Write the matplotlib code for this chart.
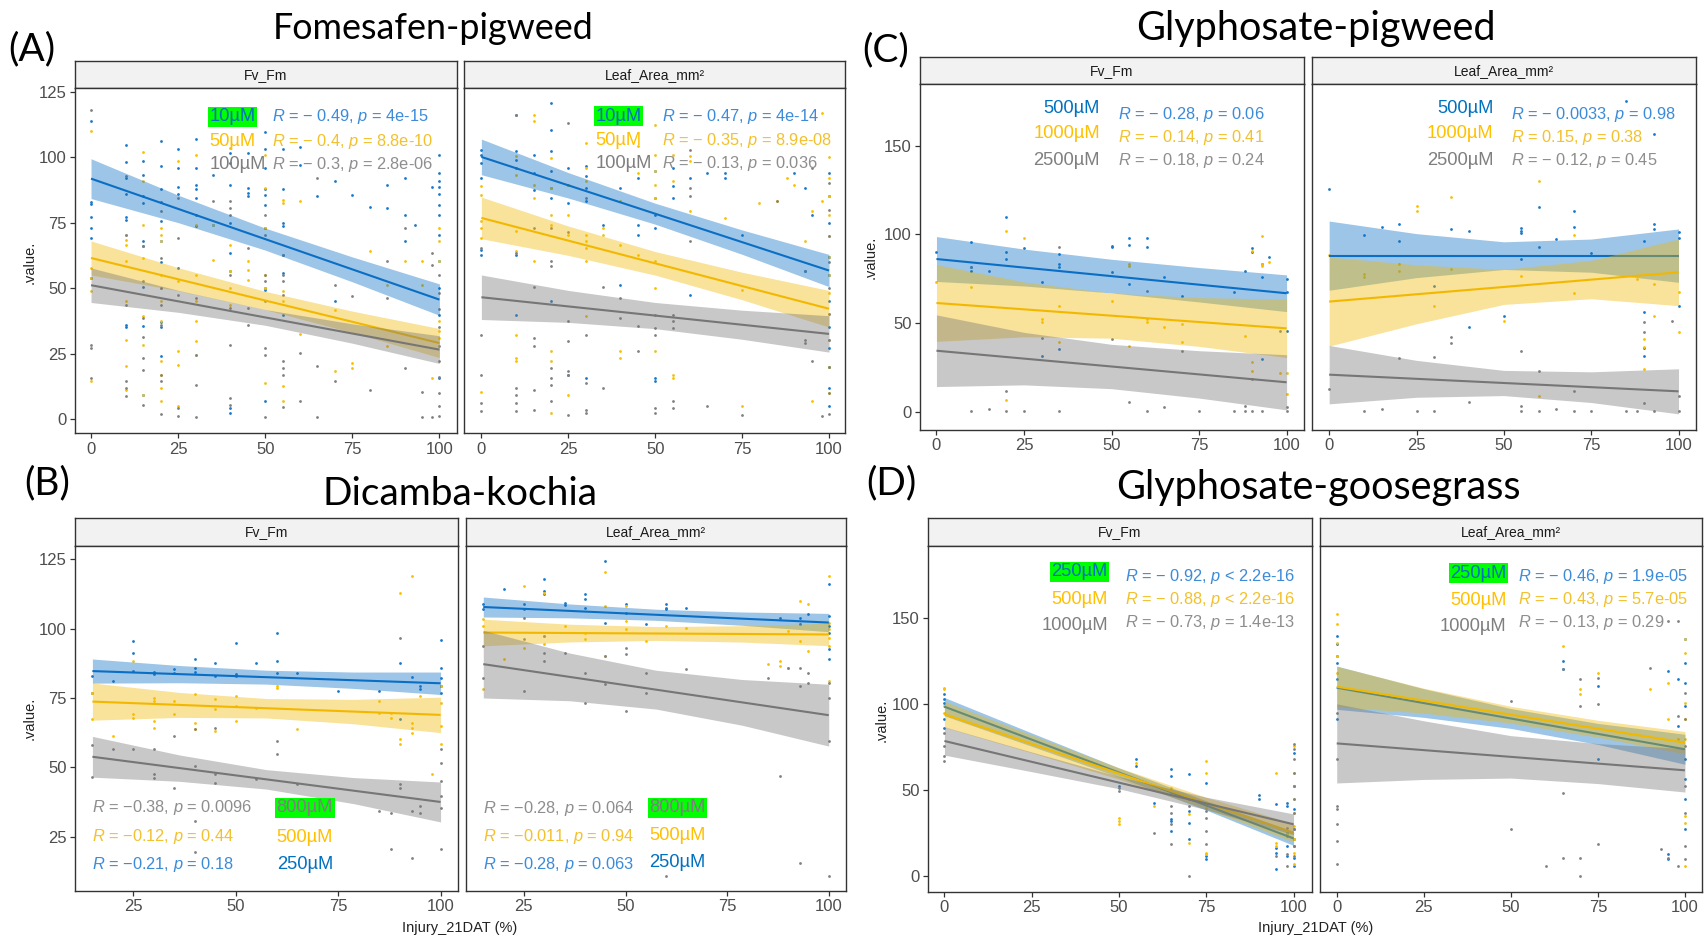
import matplotlib
matplotlib.use("Agg")
import matplotlib.pyplot as plt

plt.rcParams['font.family'] = ['Liberation Sans', 'DejaVu Sans']
plt.rcParams['mathtext.fontset'] = 'custom'
plt.rcParams['mathtext.it'] = 'Liberation Sans:italic'
plt.rcParams['mathtext.rm'] = 'Liberation Sans'

# ---------------------------------------------------------------- data
SERIES = ['blue', 'yellow', 'gray']

# Panel A  Fomesafen-pigweed (10, 50, 100 uM)
A_fv_blue = {0:[114,83,82,77,73,69,54], 10:[104.5,98,92,86,77,76,36,35], 15:[98.6,93,85,82.5,68,66,50.6,35.4,9.3],
             20:[106,96.5,88,83,75.5,68,60,37,35,24], 25:[103,96,88.5,86,57.6], 30:[107,96,89.5,88,84.4,78,73.6],
             35:[93,74], 40:[101.6,97.7,89.5,74.8,63.4,56.4,4.2,2.3], 45:[101.6,88.2,86.3,85],
             50:[109.6,103,96,88,85.6,81.8,73,50,49.4,6.7], 55:[103,88,74.8,73.6,62.7,55.7,39.8], 60:[104,97],
             65:[85], 70:[91,45], 75:[85.4], 80:[80.8], 85:[89.5,80.6], 90:[92,78,67.8], 93:[74.2], 98:[88.5],
             100:[101,94,91,88.5,86,81.8,78,70.4,60.2,50,39.8,15.6]}
A_fv_yellow = {0:[110,57.6,53.8,48.7,14.4], 10:[70.4,68.5,66.6,60.2,44.9,30.3,20.1,11.2], 15:[102,90.8,74.2,61.5,39.2,28.4,9.3],
               20:[72.9,70.4,67.8,55.1,50,44.9,37.3,22,16.9,11.8,6.7], 25:[98.6,52.6,25.8,20.7,4.8],
               30:[101,74.2,55.1,44.9,37.3,29.6,24.5], 35:[74.2,60.8], 40:[103.5,66.6,56.4,50,43.6], 45:[60.2,57,53.2],
               50:[101,88.2,72.9,55.1,50,13.7], 55:[83.7,82.5,48.7,44.9,12.5,6.7], 60:[83.1,32.4], 70:[41.7,18.2],
               75:[21.4,19.4], 80:[64], 85:[51.3,27.7], 90:[60.2], 95:[60.2,51.3], 98:[15.6], 100:[72.9,67.8,60.2,37.3,33.5,30.9]}
A_fv_gray = {0:[118,28.4,27.1,15.6], 10:[92.7,70.4,43.6,14.4,11.8,8.6], 15:[65.9,52.6,38.5,31.5,23.3,18.8,5.4],
             20:[79.3,61.5,50,43.6,36,16.9,14.4,1.9], 25:[84.4,69.1,47.5,4.2,1], 30:[46.2,24.5,13.1,0.6], 35:[83.1],
             40:[83.1,80.6,78,55.1,42.3,28.4,8,5.4], 45:[65.3,42.3,36], 50:[78,70.4,55.1,52.6,44.9,27.1,24.5,0.6],
             55:[62.7,55.1,52.6,47.5,22,19.4,16.9,4.4], 60:[25.2,6.7], 65:[92,20.1,0.6], 70:[51.3,14.4], 75:[46.8],
             80:[11.2], 85:[60.2,46.2], 90:[72.9,19.4], 95:[10.5,0.6], 98:[63.4,58.9,0.6], 100:[55,48,42,35,28,22,16,10,5,1]}
A_la_blue = {0:[102.8,100.9,97.8,92,64.7,62.7], 10:[116.2,102.2,99,95.8,62.7,39.8], 15:[100.9,93.9,87.6],
             20:[120.7,110.5,102.2,94.6,88.2,84.4,44.9], 25:[95.8,89.5,82.5,16.9], 30:[96.5,92.7,88.2,83.1,15.6],
             35:[74.2], 40:[88.2,51.3], 45:[92,74.2,70.4], 50:[94.6,84.4,78,72.9,15.6,14.4], 55:[95.8,88.8,84.4],
             60:[92,47.5], 65:[93.9], 70:[93.9,92], 75:[70.4], 90:[93.9], 93:[88.2,56.4], 95:[78],
             100:[94,85,75,62,55,45,35,27,20,12,5]}
A_la_yellow = {0:[88.8,85.7,75.5,72.9,69.1,10.5], 10:[100.3,93.3,71.7,64,32.2,23.3,22], 15:[116.2,113.7,89.5,84.4,60.2],
               20:[99.7,88.2,78,74.2,25.8,22,2.3], 25:[89.5,78,70.4,9.3], 30:[105.4,95.8,90.8,70.4,67.8,65.3,60.2,39.2],
               35:[72.9,70.4], 40:[83.1,66.6,25.8,23.3], 45:[104.1,93.9,62.7], 50:[112.4,100.9,94.6,89.5,84.4,60.2,50,25.8],
               55:[100.9,90.8,16.9,15.6], 60:[100.3,98.4,79.3], 70:[76.8], 75:[49.4,4.8], 80:[82.5], 85:[83.1], 88:[92],
               90:[89.5], 93:[67.8], 95:[79.3,6.7], 98:[116.9,83.1], 100:[100,92,85,78,70,62,55,48,40,30,20,10]}
A_la_gray = {0:[65.3,32.2,16.9,6.1,3.2], 10:[116.2,63.4,11.8,9.3,6.1,2.9], 15:[72.9,50.6,30.9,27.7,11.2,3.5],
             20:[72.9,60.2,58.3,19.4,15.6,13.1,6.7], 25:[113,71.6,37.3,29.6,18.2,16.9,1.6], 30:[84.4,32.2,13.7,3.5,2.3],
             35:[50.6,11.8], 40:[46.2,38.5], 45:[35.4,25.8], 50:[39.8,34.7,32.2,4.2,2.3], 55:[39.8,37.3,34.7,6.7,4.2],
             60:[102.8,88.2,85,67.8], 65:[4.8], 75:[1.6], 85:[83.1], 93:[56.4,30.3,29], 95:[95.8,22], 98:[1],
             100:[90,80,70,60,50,40,30,20,10,2]}

# Panel B  Dicamba-kochia (250, 500, 800 uM)
B_fv_blue = {15:[82.9,76.9], 20:[81.1], 25:[95.6,91.3,84.7], 30:[84.4,83.5], 35:[85.6,84.1], 40:[89.2,85.9,84.4],
             45:[87.5,82.9], 50:[95,83.5,82.9], 55:[87.5], 60:[98.3,88.3,83.9], 65:[84.1], 75:[77.5], 85:[77.5],
             90:[87.5,67.3], 93:[82.7], 95:[79.3,78.1], 100:[95.8,85.9,82.3,79.3,76.9]}
B_fv_yellow = {15:[76.9,67.3], 20:[61.3], 25:[88.3,69.1,67.9], 30:[75.1,73.9,66.7,64.3], 35:[73.9,69.1],
               40:[76.3,66.1,63.7], 45:[74.5,70.9,63.1], 50:[75.7,72.1,66.7], 55:[71.5], 60:[79.3,78.7], 65:[63.9],
               85:[73.9,69.7], 88:[69.7,67.9], 90:[113,60.1,58.3], 93:[119,66.1,64.3,62.5], 95:[75.7], 98:[47.5],
               100:[79.3,73.3,64.9,58.3]}
B_fv_gray = {15:[57.9,46.6], 20:[56.5], 25:[56.5], 30:[56.5,47.5,46.3], 35:[61.3,42.6], 40:[63.7,50.5,30.6,19.4],
             45:[64.3,47.5,44.5], 55:[45.7], 60:[59.5,54.7], 65:[43.9], 85:[34.2], 88:[33.6,20.4], 90:[96.8,43.9,42.6],
             93:[34.2,17.4], 95:[36,33.6], 100:[56.5,51.7,45.1,39.6,35.4,20.4]}
B_la_blue = {15:[108.8,107], 20:[114.4], 25:[108.8,107.2], 30:[117.8,113.6,112.4], 35:[109.1,108.4],
             40:[112.4,110.6,107.6], 45:[124.4,102.2], 50:[108.8,105.8], 55:[101.6], 60:[108.8,107.6,107], 65:[107.6],
             88:[104], 93:[104,101.6], 95:[105.2], 100:[116,104.6,101,98.6,92.6,88.9]}
B_la_yellow = {15:[103.6,101,78.4], 20:[89.2], 25:[115.2,93.2], 30:[112.8,97.4,94.4], 35:[101], 40:[98.6,96.2],
               45:[120.4,108.2,90.1], 50:[108.2,102.8,99.8], 55:[95.6], 60:[101], 65:[100.4], 85:[87.1], 88:[88.3,86.5],
               90:[99.2,85.9], 93:[110,95.6], 95:[108.8,92], 100:[119,102.2,99.8,96.8,93.8,81.1]}
B_la_gray = {15:[93.8,82.3], 25:[104,96.2,77.5], 30:[97.4,91.3,88.3], 35:[91.3], 40:[84.1,73.3], 45:[90.1,79.9],
             50:[93.2,90.7,70.3], 55:[84.1,76.9], 60:[10.8], 65:[85.6], 85:[82.3], 88:[46.9], 90:[85.9],
             93:[85.9,79.3,15.6], 95:[84.1,80.5], 100:[80.5,75.1,59.5,10.8]}

# Panel C  Glyphosate-pigweed (500, 1000, 2500 uM)
C_fv_blue = {0:[89.9], 10:[95.5,81.8,79.2], 15:[79.2], 20:[109.6,89.9,86.1], 25:[92.3], 30:[73,31.6],
             35:[88.9,83.3,81.8,35.4], 50:[93.6,92.7,78.6], 55:[98,94.2,72], 60:[98,93.1], 65:[75.8], 70:[65.4],
             85:[67.3], 88:[79.2], 90:[89.9,92.3], 93:[83.3,75.8,29.7], 95:[87.1], 100:[74.8,67.3,45.3]}
C_fv_yellow = {0:[73], 10:[70.1], 20:[102.1,6.6], 25:[98], 30:[52.3,50.4], 35:[59.8,39.1], 50:[62.2],
               55:[83.3,82.4,37.2], 60:[52.3,50.4], 65:[47.9], 70:[49.5,39.1], 88:[42.9], 90:[90.8,27.8,23.1],
               93:[99.3,83.3,82.4], 95:[84.2], 98:[21.6], 100:[21.6,10]}
C_fv_gray = {10:[81.8,0.6], 15:[1.5], 20:[11.9,0.6], 25:[0.6], 30:[41.6], 35:[92.7,0.6], 50:[41], 55:[5.3],
             60:[68.3,0.6], 65:[2.5], 70:[34.4], 75:[0.6], 85:[0.6], 88:[3.4,0.6], 90:[18.4,0.6], 93:[0.6],
             98:[45.7], 100:[2.5,0.6]}
C_la_blue = {0:[125.6], 10:[99.8], 15:[104.3], 20:[105.8,96.4], 30:[71.1], 35:[103], 40:[102.1,48], 50:[54.2],
             55:[103.6,102.1,100.6,86.1], 60:[115.3,92.7], 65:[97.4], 70:[113.4,104], 75:[89.3], 85:[175.4],
             90:[96.4,56,35.9,31.6], 93:[156.6,105.8,103], 100:[101.2,98,59.8]}
C_la_yellow = {0:[88.6], 10:[77.7,75.8], 20:[83.3,79.5], 25:[116.2,113.4], 30:[59.8], 35:[120.9,80.5], 50:[51.3],
               55:[76.7], 60:[129.9,9.1], 70:[99.8,66.7], 88:[74.8], 90:[41,36.3,24.1], 93:[72,54.2], 100:[67.3,44.8]}
C_la_gray = {0:[12.8], 10:[0.6], 15:[1.5], 20:[30.3], 25:[0.6], 30:[0.6,30.7], 35:[42.3,38.6], 40:[5.3],
             55:[34.4,3.4,0.6], 60:[22.8,0.6], 65:[1.5], 70:[11.9,0.6], 75:[0.6], 85:[0.6], 88:[0.6],
             90:[50.4,44.8,4.7], 93:[0.6], 98:[51], 100:[9.1,0.6]}

# Panel D  Glyphosate-goosegrass (250, 500, 1000 uM)
D_fv_blue = {0:[105.6,102.7,100.7,91.1,86.2], 50:[52.4], 55:[67.9,64], 60:[42.7], 65:[62.1,58.2,33.1,32.1,26.3],
             70:[59.2,37.9,31.1,21.5], 75:[54.3,11.8,9.9], 90:[47,45], 95:[41.8,16.6,13.7,4],
             98:[42.7,40.8,25.3,17.6,11.8], 100:[71.7,52.4,38.9,27.3,21.5,17.6,10.8,6]}
D_fv_yellow = {0:[109.4,108.5,98.8,94.9], 50:[34,32.1,30.2], 55:[66], 60:[40.8], 65:[51.4,48.5], 70:[44.7,35.9,19.5],
               75:[66.9,60.1,41.8,39.8,13.7,12.8], 95:[60.1,19.5,17.6], 98:[25.3],
               100:[75.6,60.1,52.4,44.7,36.9,29.2,21.5,13.7,7]}
D_fv_gray = {0:[83.3,75.6,69.8,66.9], 50:[51.4,49.5], 60:[25.3], 65:[40.8,36.9,30.2,18.6], 70:[44.7,40.8,0.2],
             75:[37.9,34,26.3,18.6], 95:[11.8], 98:[28.2,23.4,12.8,6],
             100:[76.5,73.7,67.9,60.1,52.4,44.7,36.9,27.3,17.6,11.8]}
D_la_blue = {0:[139.4,134.6,127.8,123.9,114.3,91.1], 65:[124.9,120.1], 75:[110.4,67.9], 95:[119.1,12.8,9.9],
             98:[114.3,87.2], 100:[137.5,123.9,112.3,98.8,67.9,56.3,44.7,27.3]}
D_la_yellow = {0:[152,146.2,135.5,127.8,118.1], 65:[133.6], 70:[108.5,105.6], 75:[118.1], 90:[108.5], 95:[112.3,91.1],
               98:[79.5], 100:[137.5,129.7,100.7,91.1,79.5,35,31.1,6]}
D_la_gray = {0:[94.9,67.9,40.8,38.9,30.2,20.5,7], 50:[101.7,27.3], 60:[6], 65:[120.1,48.5,10.8],
             70:[114.3,98.8,10.8,0.2], 75:[115.2,99.8,18.6], 90:[121], 93:[15.7], 95:[148.1,10.8], 98:[148.1,93,6],
             100:[106.6,91.1,75.6,52.4,36.9,17.6,9.9]}

# linear fits (value at first and last x) and confidence band read at five x positions
FIT_X_0_100 = [0, 25, 50, 75, 100]
FIT_X_15_100 = [15, 36.25, 57.5, 78.75, 100]

A_fv_line = {'blue': [91.8, 45.6], 'yellow': [61.5, 29.0], 'gray': [51.1, 26.5]}
A_fv_lo = {'blue': [84.2, 75.0, 64.5, 52.4, 39.6], 'yellow': [55.0, 49.0, 41.75, 33.0, 23.45], 'gray': [44.5, 40.75, 35.8, 28.95, 21.2]}
A_fv_hi = {'blue': [99.4, 85.5, 72.9, 61.9, 51.6], 'yellow': [68.0, 57.8, 48.75, 41.2, 34.55], 'gray': [57.7, 49.15, 41.8, 36.35, 31.8]}
A_la_line = {'blue': [100.1, 56.7], 'yellow': [76.8, 42.1], 'gray': [46.5, 32.5]}
A_la_lo = {'blue': [93.3, 84.4, 74.4, 62.9, 50.55], 'yellow': [68.85, 62.5, 54.95, 45.55, 35.1], 'gray': [38.0, 36.9, 34.5, 30.45, 25.55]}
A_la_hi = {'blue': [106.9, 94.1, 82.4, 72.2, 62.85], 'yellow': [84.75, 73.7, 63.95, 56.05, 49.1], 'gray': [55.0, 49.1, 44.5, 41.55, 39.45]}

B_fv_line = {'blue': [84.7, 80.3], 'yellow': [73.7, 68.9], 'gray': [53.8, 37.5]}
B_fv_lo = {'blue': [80.35, 80.5, 80.0, 78.45, 76.25], 'yellow': [67.0, 68.0, 67.8, 65.7, 62.5], 'gray': [46.45, 44.95, 42.15, 36.9, 30.3]}
B_fv_hi = {'blue': [89.05, 86.7, 85.0, 84.35, 84.35], 'yellow': [80.4, 77.0, 74.8, 74.5, 75.3], 'gray': [61.15, 54.45, 49.15, 46.3, 44.7]}
B_la_line = {'blue': [107.8, 102.2], 'yellow': [98.6, 97.9], 'gray': [87.2, 68.8]}
B_la_lo = {'blue': [104.2, 103.9, 103.0, 101.2, 98.9], 'yellow': [93.8, 95.2, 95.75, 95.15, 93.85], 'gray': [75.0, 74.0, 71.0, 65.15, 57.65]}
B_la_hi = {'blue': [111.4, 108.9, 107.0, 106.0, 105.5], 'yellow': [103.4, 101.6, 100.75, 101.05, 101.95], 'gray': [99.4, 91.2, 85.0, 81.65, 79.95]}

C_fv_line = {'blue': [86.1, 66.8], 'yellow': [61.3, 47.0], 'gray': [34.4, 16.6]}
C_fv_lo = {'blue': [73.45, 70.9, 66.95, 61.9, 56.45], 'yellow': [39.65, 42.25, 41.45, 36.85, 30.55], 'gray': [14.2, 15.15, 13.0, 7.7, 1.05]}
C_fv_hi = {'blue': [98.75, 91.7, 85.95, 81.3, 77.15], 'yellow': [82.95, 73.15, 66.85, 64.35, 63.45], 'gray': [54.6, 44.75, 38.0, 34.4, 32.15]}
C_la_line = {'blue': [88.0, 88.0], 'yellow': [62.1, 78.6], 'gray': [20.9, 11.5]}
C_la_lo = {'blue': [68.5, 75.6, 80.2, 78.65, 72.95], 'yellow': [37.0, 49.6, 60.5, 63.7, 59.8], 'gray': [4.45, 8.15, 9.1, 5.2, -1.2]}
C_la_hi = {'blue': [107.5, 100.4, 95.8, 97.35, 103.05], 'yellow': [87.2, 82.8, 80.2, 85.3, 97.4], 'gray': [37.35, 28.95, 23.3, 22.5, 24.2]}

D_fv_line = {'blue': [98.4, 22.0], 'yellow': [94.0, 25.3], 'gray': [78.5, 30.2]}
D_fv_lo = {'blue': [93.1, 75.44, 57.53, 38.4, 17.95], 'yellow': [86.45, 71.63, 56.35, 39.16, 20.0], 'gray': [70.3, 60.7, 50.8, 38.7, 24.2]}
D_fv_hi = {'blue': [103.7, 83.16, 62.87, 43.8, 26.05], 'yellow': [101.55, 81.97, 62.95, 45.84, 30.6], 'gray': [86.7, 72.1, 57.9, 45.9, 36.2]}
D_la_line = {'blue': [109.4, 73.7], 'yellow': [110.0, 77.5], 'gray': [77.1, 61.5]}
D_la_lo = {'blue': [96.85, 92.2, 85.8, 76.5, 65.0], 'yellow': [98.2, 94.7, 88.9, 80.7, 71.0], 'gray': [54.15, 56.2, 57.0, 53.8, 48.9]}
D_la_hi = {'blue': [121.95, 108.8, 97.3, 88.7, 82.4], 'yellow': [121.8, 109.1, 98.6, 90.5, 84.0], 'gray': [100.05, 90.2, 81.6, 77.0, 74.1]}

# annotation texts
A_conc = ['10µM', '50µM', '100µM']
B_conc = ['800µM', '500µM', '250µM']
C_conc = ['500µM', '1000µM', '2500µM']
D_conc = ['250µM', '500µM', '1000µM']
A_fv_r = [r'$R$ = − 0.49, $p$ = 4e-15', r'$R$ = − 0.4, $p$ = 8.8e-10', r'$R$ = − 0.3, $p$ = 2.8e-06']
A_la_r = [r'$R$ = − 0.47, $p$ = 4e-14', r'$R$ = − 0.35, $p$ = 8.9e-08', r'$R$ = − 0.13, $p$ = 0.036']
B_fv_r = [r'$R$ = −0.38, $p$ = 0.0096', r'$R$ = −0.12, $p$ = 0.44', r'$R$ = −0.21, $p$ = 0.18']
B_la_r = [r'$R$ = −0.28, $p$ = 0.064', r'$R$ = −0.011, $p$ = 0.94', r'$R$ = −0.28, $p$ = 0.063']
C_fv_r = [r'$R$ = − 0.28, $p$ = 0.06', r'$R$ = − 0.14, $p$ = 0.41', r'$R$ = − 0.18, $p$ = 0.24']
C_la_r = [r'$R$ = − 0.0033, $p$ = 0.98', r'$R$ = 0.15, $p$ = 0.38', r'$R$ = − 0.12, $p$ = 0.45']
D_fv_r = [r'$R$ = − 0.92, $p$ < 2.2e-16', r'$R$ = − 0.88, $p$ < 2.2e-16', r'$R$ = − 0.73, $p$ = 1.4e-13']
D_la_r = [r'$R$ = − 0.46, $p$ = 1.9e-05', r'$R$ = − 0.43, $p$ = 5.7e-05', r'$R$ = − 0.13, $p$ = 0.29']

TITLES = ['Fomesafen-pigweed', 'Dicamba-kochia', 'Glyphosate-pigweed', 'Glyphosate-goosegrass']
TAGS = ['(A)', '(B)', '(C)', '(D)']
STRIPS = ['Fv_Fm', 'Leaf_Area_mm²']

# ---------------------------------------------------------------- style
LINE_COL = {'blue': '#0a6ec4', 'yellow': '#f2b800', 'gray': '#767676'}
PT_COL = {'blue': '#1a78c8', 'yellow': '#f7c000', 'gray': '#808080'}
R_COL = {'blue': '#3c8bd9', 'yellow': '#f2c12e', 'gray': '#8e8e8e'}
CONC_COL = {'blue': '#0070c0', 'yellow': '#ffc000', 'gray': '#7f7f7f'}
GREEN = '#00ff00'

W, H = 1704, 939
fig = plt.figure(figsize=(W / 100, H / 100), dpi=100)
fig.patch.set_facecolor('white')


def axes_px(x0, x1, y0, y1):
    return fig.add_axes([x0 / W, 1 - y1 / H, (x1 - x0) / W, (y1 - y0) / H])


def facet(xb, strip_y, plot_y, label, xlim, ylim, xticks, yticks, show_y,
          pts, line, lo, hi, fit_x, texts):
    st = axes_px(xb[0], xb[1], strip_y[0], strip_y[1])
    st.set_facecolor('#f2f2f2')
    st.set_xticks([]); st.set_yticks([])
    for s in st.spines.values():
        s.set_color('#333333'); s.set_linewidth(1.0)
    st.text(0.5, 0.5, label, ha='center', va='center', fontsize=10, color='#1a1a1a',
            transform=st.transAxes)

    ax = axes_px(xb[0], xb[1], plot_y[0], plot_y[1])
    for s in ax.spines.values():
        s.set_color('#333333'); s.set_linewidth(1.0)
    for key in SERIES:
        d = pts[key]
        xs = [x for x, ys in d.items() for _ in ys]
        ys = [y for v in d.values() for y in v]
        ax.scatter(xs, ys, s=4, color=PT_COL[key], linewidths=0, zorder=2)
    for i, key in enumerate(SERIES):
        ax.fill_between(fit_x, lo[key], hi[key], color=LINE_COL[key], alpha=0.4,
                        linewidth=0, zorder=3 + i * 0.2)
        ax.plot([fit_x[0], fit_x[-1]], line[key], color=LINE_COL[key], lw=1.5,
                zorder=3.1 + i * 0.2, solid_capstyle='butt')
    ax.set_xlim(*xlim); ax.set_ylim(*ylim)
    ax.set_xticks(xticks)
    ax.tick_params(axis='x', length=3.5, width=0.9, color='#333333', labelsize=12,
                   labelcolor='#4d4d4d', pad=2.5)
    if show_y:
        ax.set_yticks(yticks)
        ax.tick_params(axis='y', length=3.5, width=0.9, color='#333333', labelsize=12,
                       labelcolor='#4d4d4d', pad=2.5)
    else:
        ax.set_yticks([])
    for (s, x, y, color, ha, size, hl) in texts:
        kw = {}
        if hl:
            kw['bbox'] = dict(boxstyle='square,pad=0.08', fc=GREEN, ec='none')
        ax.text(x, y, s, ha=ha, va='center', color=color, fontsize=size, zorder=6, **kw)
    return ax


def label_set(conc, keys, cx, cy, c_ha, rstr, rx, ry, hl_index):
    out = []
    for i, key in enumerate(keys):
        out.append((conc[i], cx, cy[i], CONC_COL[key], c_ha, 13.2, i == hl_index))
        out.append((rstr[i], rx, ry[i], R_COL[key], 'left', 11.8, False))
    return out


# Panel A
yA = (-5.46, 126.3)
facet((75, 457), (61, 88.3), (88.3, 433.3), STRIPS[0], (-4.6, 105.05), yA, [0, 25, 50, 75, 100],
      [0, 25, 50, 75, 100, 125], True,
      {'blue': A_fv_blue, 'yellow': A_fv_yellow, 'gray': A_fv_gray}, A_fv_line, A_fv_lo, A_fv_hi, FIT_X_0_100,
      label_set(A_conc, SERIES, 33.9, [115.4, 106.1, 97.1], 'left', A_fv_r, 52.0, [115.4, 106.1, 97.1], 0))
facet((464, 845), (61, 88.3), (88.3, 433.3), STRIPS[1], (-5.0, 104.6), yA, [0, 25, 50, 75, 100],
      [], False,
      {'blue': A_la_blue, 'yellow': A_la_yellow, 'gray': A_la_gray}, A_la_line, A_la_lo, A_la_hi, FIT_X_0_100,
      label_set(A_conc, SERIES, 32.8, [115.6, 106.3, 97.4], 'left', A_la_r, 52.1, [115.6, 106.3, 97.4], 0))

# Panel B
yB = (5.4, 129.8)
facet((75, 458), (518.3, 546), (546, 891), STRIPS[0], (10.75, 104.25), yB, [25, 50, 75, 100],
      [25, 50, 75, 100, 125], True,
      {'blue': B_fv_blue, 'yellow': B_fv_yellow, 'gray': B_fv_gray}, B_fv_line, B_fv_lo, B_fv_hi, FIT_X_15_100,
      label_set(B_conc, ['gray', 'yellow', 'blue'], 60.0, [35.4, 24.6, 15.0], 'left', B_fv_r, 15.0,
                [35.4, 25.0, 15.0], 0))
facet((466, 846), (518.3, 546), (546, 891), STRIPS[1], (10.75, 104.25), yB, [25, 50, 75, 100],
      [], False,
      {'blue': B_la_blue, 'yellow': B_la_yellow, 'gray': B_la_gray}, B_la_line, B_la_lo, B_la_hi, FIT_X_15_100,
      label_set(B_conc, ['gray', 'yellow', 'blue'], 55.8, [35.4, 25.4, 15.8], 'left', B_la_r, 15.0,
                [35.3, 25.0, 15.0], 0))

# Panel C
yC = (-10.3, 184.6)
facet((920, 1303.6), (57.3, 84.3), (84.3, 430), STRIPS[0], (-4.7, 104.85), yC, [0, 25, 50, 75, 100],
      [0, 50, 100, 150], True,
      {'blue': C_fv_blue, 'yellow': C_fv_yellow, 'gray': C_fv_gray}, C_fv_line, C_fv_lo, C_fv_hi, FIT_X_0_100,
      label_set(C_conc, SERIES, 46.7, [170.7, 156.6, 141.9], 'right', C_fv_r, 51.8, [167.5, 154.7, 141.5], -1))
facet((1311.7, 1696), (57.3, 84.3), (84.3, 430), STRIPS[1], (-5.0, 105.0), yC, [0, 25, 50, 75, 100],
      [], False,
      {'blue': C_la_blue, 'yellow': C_la_yellow, 'gray': C_la_gray}, C_la_line, C_la_lo, C_la_hi, FIT_X_0_100,
      label_set(C_conc, SERIES, 47.1, [170.7, 156.6, 141.9], 'right', C_la_r, 52.1, [167.5, 154.7, 141.5], -1))

# Panel D
yD = (-8.9, 191.4)
facet((928, 1311.7), (518.3, 546.3), (546.3, 891.7), STRIPS[0], (-4.7, 105.2), yD, [0, 25, 50, 75, 100],
      [0, 50, 100, 150], True,
      {'blue': D_fv_blue, 'yellow': D_fv_yellow, 'gray': D_fv_gray}, D_fv_line, D_fv_lo, D_fv_hi, FIT_X_0_100,
      label_set(D_conc, SERIES, 46.8, [176.5, 160.7, 145.6], 'right', D_fv_r, 51.8, [173.8, 160.7, 147.1], 0))
facet((1320, 1702), (518.3, 546.3), (546.3, 891.7), STRIPS[1], (-4.8, 104.9), yD, [0, 25, 50, 75, 100],
      [], False,
      {'blue': D_la_blue, 'yellow': D_la_yellow, 'gray': D_la_gray}, D_la_line, D_la_lo, D_la_hi, FIT_X_0_100,
      label_set(D_conc, SERIES, 48.7, [175.7, 159.7, 144.8], 'right', D_la_r, 52.1, [173.8, 160.7, 147.1], 0))

# ---------------------------------------------------------------- titles & axis labels
def ftext(x, y, s, **kw):
    fig.text(x / W, 1 - y / H, s, **kw)

TFONT = ['Lato', 'DejaVu Sans']
ftext(433, 39, TITLES[0], ha='center', va='baseline', fontsize=25.8, family=TFONT)
ftext(460, 505, TITLES[1], ha='center', va='baseline', fontsize=28, family=TFONT)
ftext(1316, 40, TITLES[2], ha='center', va='baseline', fontsize=28.5, family=TFONT)
ftext(1318, 499, TITLES[3], ha='center', va='baseline', fontsize=28.5, family=TFONT)
ftext(8, 60, TAGS[0], ha='left', va='baseline', fontsize=28, family=TFONT)
ftext(24, 494, TAGS[1], ha='left', va='baseline', fontsize=28, family=TFONT)
ftext(862, 61, TAGS[2], ha='left', va='baseline', fontsize=28, family=TFONT)
ftext(866, 494, TAGS[3], ha='left', va='baseline', fontsize=28, family=TFONT)

for (x, y) in [(30, 262), (30, 718), (871, 257), (882, 720)]:
    ftext(x, y, '.value.', ha='center', va='center', rotation=90, fontsize=10.5, color='#222222')
for (x, y) in [(460, 928), (1316, 928)]:
    ftext(x, y, 'Injury_21DAT (%)', ha='center', va='center', fontsize=10.5, color='#222222')

fig.savefig('out.png', dpi=100, facecolor='white')
